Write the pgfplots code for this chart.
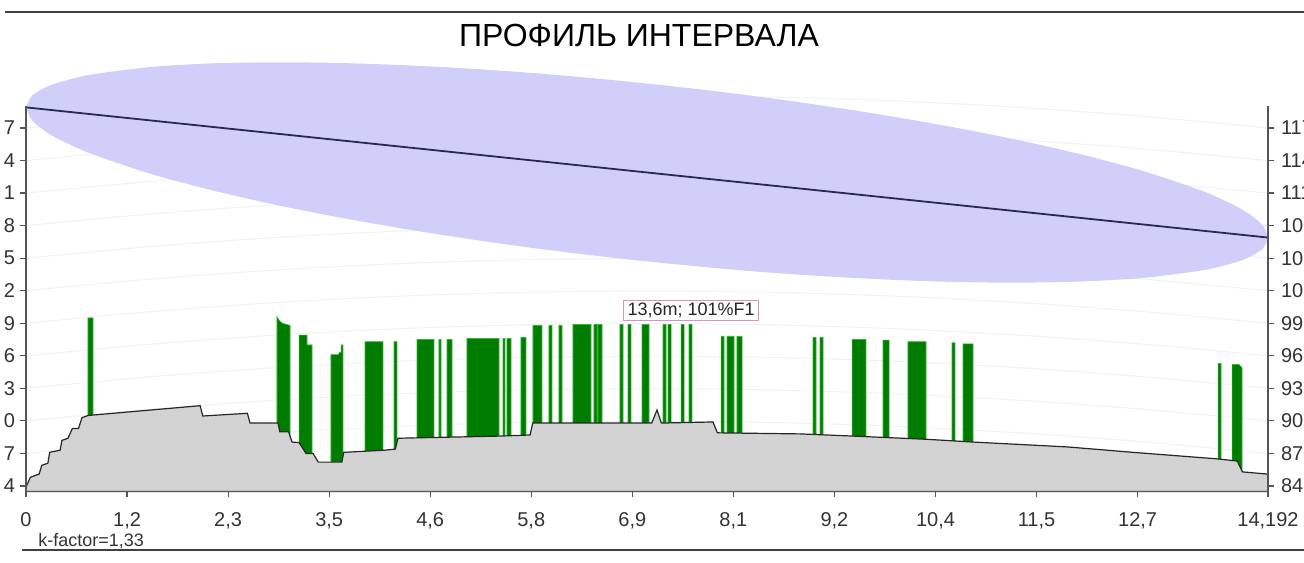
\documentclass[border=0pt]{standalone}
\usepackage{pgfplots}
\usepackage{pgfplotstable}
\pgfplotsset{compat=1.18}
\usepackage{fontspec}
\setmainfont{Liberation Sans}

\definecolor{fresnel}{RGB}{207,207,250}
\definecolor{los}{RGB}{40,40,85}
\definecolor{forest}{RGB}{0,125,0}
\definecolor{forestedge}{RGB}{50,180,50}
\definecolor{terrain}{RGB}{211,211,211}
\definecolor{axisgray}{RGB}{85,85,85}
\definecolor{boxpink}{RGB}{215,150,185}

\pgfplotstableread{
x b
0 0
1.419 1.069
2.838 1.901
4.258 2.495
5.677 2.851
7.096 2.97
8.515 2.851
9.934 2.495
11.354 1.901
12.773 1.069
14.192 0
}\bulgetable

\pgfplotstableread{
x y
0 83.5
0 83.9
0.05 84.8
0.15 85.1
0.18 85.9
0.25 86.1
0.27 87.1
0.39 87.3
0.41 88.2
0.48 88.4
0.53 89.3
0.60 89.3
0.64 90.3
0.71 90.5
1.99 91.4
2.02 90.45
2.53 90.7
2.56 89.8
2.88 89.8
2.90 89.0
3.00 89.0
3.04 88.05
3.12 88.0
3.20 87.0
3.28 87.0
3.34 86.2
3.61 86.2
3.63 87.1
4.10 87.3
4.22 87.4
4.25 88.4
5.42 88.6
5.76 88.7
5.79 89.8
7.15 89.8
7.21 91.0
7.26 89.8
7.85 89.9
7.90 88.9
8.85 88.8
9.45 88.6
10.30 88.3
10.82 88.05
11.90 87.6
12.65 87.1
13.61 86.5
13.84 86.3
13.90 85.3
14.18 85.1
14.192 85.0
14.192 83.5
}\terraintable

\begin{document}
\begin{tikzpicture}
\path[use as bounding box] (0,0) rectangle (652pt,281pt);
\clip (0,0) rectangle (652pt,281pt);
\draw[line width=0.75pt, black!75] (2.5pt,275pt) -- (652pt,275pt);
\draw[line width=0.75pt, black!75] (11pt,6pt) -- (652pt,6pt);
\node at (319.5pt,263.5pt) {\fontsize{16}{19}\selectfont ПРОФИЛЬ ИНТЕРВАЛА};
\node[anchor=west, inner sep=0pt, text=black!80] at (19pt,10.5pt) {\fontsize{9}{10}\selectfont k-factor=1,33};

\begin{axis}[
  at={(13pt,35.3pt)}, anchor=south west,
  scale only axis, width=621pt, height=192.55pt,
  xmin=0, xmax=14.192, ymin=83.5, ymax=119,
  clip=false, axis on top,
  axis x line=bottom, axis y line=left,
  axis line style={-, draw=axisgray, line width=0.8pt},
  tick align=outside, major tick length=3pt,
  tick style={draw=axisgray, line width=0.6pt},
  xtick={0,1.1547,2.3094,3.4641,4.6188,5.7735,6.9282,8.0829,9.2376,10.3923,11.547,12.7017,14.192},
  xticklabels={0,{1,2},{2,3},{3,5},{4,6},{5,8},{6,9},{8,1},{9,2},{10,4},{11,5},{12,7},{14,192}},
  ytick={84,87,...,117},
  yticklabels={4,7,0,3,6,9,2,5,8,1,4,7},
  ticklabel style={font=\fontsize{10}{12}\selectfont, text=black!80},
  xticklabel style={yshift=-4pt},
  yticklabel style={xshift=1pt},
]
\pgfplotsinvokeforeach{84,87,...,117}{
  \addplot[black!5, line width=0.5pt, smooth] table[x=x, y expr=\thisrow{b}+#1] {\bulgetable};
}
% Fresnel zone
\addplot[fill=fresnel, draw=none, smooth, tension=0.4] coordinates {
(0,118.9)(0.071,120.0)(0.284,120.96)(0.710,121.88)(1.419,122.62)(2.129,122.96)(2.838,123.06)(3.548,123.0)(4.258,122.81)(4.967,122.52)(5.677,122.14)(6.386,121.66)(7.096,121.1)(7.806,120.46)(8.515,119.74)(9.225,118.92)(9.934,118.01)(10.644,117.0)(11.354,115.86)(12.063,114.56)(12.773,113.02)(13.482,111.08)(13.908,109.44)(14.121,108.12)(14.192,106.9)
(14.121,105.8)(13.908,104.84)(13.482,103.93)(12.773,103.18)(12.063,102.85)(11.354,102.74)(10.644,102.8)(9.934,102.99)(9.225,103.28)(8.515,103.66)(7.806,104.14)(7.096,104.7)(6.386,105.34)(5.677,106.06)(4.967,106.88)(4.258,107.79)(3.548,108.8)(2.838,109.94)(2.129,111.25)(1.419,112.78)(0.710,114.73)(0.284,116.36)(0.071,117.68)(0,118.9)
};
% line of sight
\addplot[los, line width=0.9pt] coordinates {(0,118.9)(14.192,106.9)};
% forest / obstacles
\addplot[fill=forest, draw=forestedge, line width=0.3pt] coordinates {
(0.708,83.5)(0.708,99.5)(0.766,99.5)(0.766,83.5)
(2.868,83.5)(2.868,99.6)(2.90,99.2)(2.93,99.0)(3.017,98.8)(3.017,83.5)
(3.120,83.5)(3.120,97.9)(3.211,97.9)(3.211,97.0)(3.268,97.0)(3.268,83.5)
(3.485,83.5)(3.485,96.1)(3.57,96.1)(3.58,96.3)(3.60,96.3)(3.60,97.0)(3.622,97.0)(3.622,83.5)
(3.874,83.5)(3.874,97.3)(4.079,97.3)(4.079,83.5)
(4.205,83.5)(4.205,97.3)(4.239,97.3)(4.239,83.5)
(4.468,83.5)(4.468,97.5)(4.662,97.5)(4.662,83.5)
(4.719,83.5)(4.719,97.5)(4.742,97.5)(4.742,83.5)
(4.811,83.5)(4.811,97.5)(4.868,97.5)(4.868,83.5)
(5.039,83.5)(5.039,97.6)(5.405,97.6)(5.405,83.5)
(5.451,83.5)(5.451,97.6)(5.473,97.6)(5.473,83.5)
(5.496,83.5)(5.496,97.6)(5.542,97.6)(5.542,83.5)
(5.656,83.5)(5.656,97.7)(5.713,97.7)(5.713,83.5)
(5.793,83.5)(5.793,98.8)(5.896,98.8)(5.896,83.5)
(5.976,83.5)(5.976,98.8)(6.010,98.8)(6.010,83.5)
(6.090,83.5)(6.090,98.8)(6.125,98.8)(6.125,83.5)
(6.250,83.5)(6.250,98.9)(6.456,98.9)(6.456,83.5)
(6.490,83.5)(6.490,98.9)(6.525,98.9)(6.525,83.5)
(6.536,83.5)(6.536,98.9)(6.582,98.9)(6.582,83.5)
(6.787,83.5)(6.787,98.9)(6.822,98.9)(6.822,83.5)
(6.879,83.5)(6.879,98.9)(6.913,98.9)(6.913,83.5)
(7.039,83.5)(7.039,98.9)(7.119,98.9)(7.119,83.5)
(7.279,83.5)(7.279,98.9)(7.313,98.9)(7.313,83.5)
(7.336,83.5)(7.336,98.9)(7.372,98.9)(7.372,83.5)
(7.485,83.5)(7.485,98.9)(7.520,98.9)(7.520,83.5)
(7.576,83.5)(7.576,98.9)(7.610,98.9)(7.610,83.5)
(7.942,83.5)(7.942,97.8)(7.976,97.8)(7.976,83.5)
(8.010,83.5)(8.010,97.8)(8.090,97.8)(8.090,83.5)
(8.124,83.5)(8.124,97.8)(8.182,97.8)(8.182,83.5)
(8.993,83.5)(8.993,97.7)(9.027,97.7)(9.027,83.5)
(9.073,83.5)(9.073,97.7)(9.107,97.7)(9.107,83.5)
(9.439,83.5)(9.439,97.5)(9.598,97.5)(9.598,83.5)
(9.793,83.5)(9.793,97.45)(9.862,97.45)(9.862,83.5)
(10.078,83.5)(10.078,97.3)(10.284,97.3)(10.284,83.5)
(10.581,83.5)(10.581,97.2)(10.615,97.2)(10.615,83.5)
(10.707,83.5)(10.707,97.1)(10.821,97.1)(10.821,83.5)
(13.621,83.5)(13.621,95.3)(13.655,95.3)(13.655,83.5)
(13.781,83.5)(13.781,95.2)(13.86,95.2)(13.895,94.9)(13.895,83.5)
} -- cycle;
% terrain
\addplot[fill=terrain, draw=black!85, line width=0.6pt] table[x=x,y=y] {\terraintable} -- cycle;
\node[draw=boxpink, fill=white, inner xsep=2pt, inner ysep=1.2pt, font=\fontsize{9}{11}\selectfont, text=black!85] at (axis cs:7.60,100.2) {13,6m; 101\%F1};
\end{axis}

\begin{axis}[
  at={(13pt,35.3pt)}, anchor=south west,
  scale only axis, width=621pt, height=192.55pt,
  xmin=0, xmax=14.192, ymin=83.5, ymax=119,
  axis x line=none, axis y line=right,
  axis line style={-, draw=axisgray, line width=0.8pt},
  tick align=outside, major tick length=3pt,
  tick style={draw=axisgray, line width=0.6pt},
  ytick={84,87,...,117},
  yticklabels={84,87,90,93,96,99,102,105,108,111,114,117},
  ticklabel style={font=\fontsize{10}{12}\selectfont, text=black!80},
]
\addplot[draw=none] coordinates {(0,84)};
\end{axis}
\end{tikzpicture}
\end{document}
